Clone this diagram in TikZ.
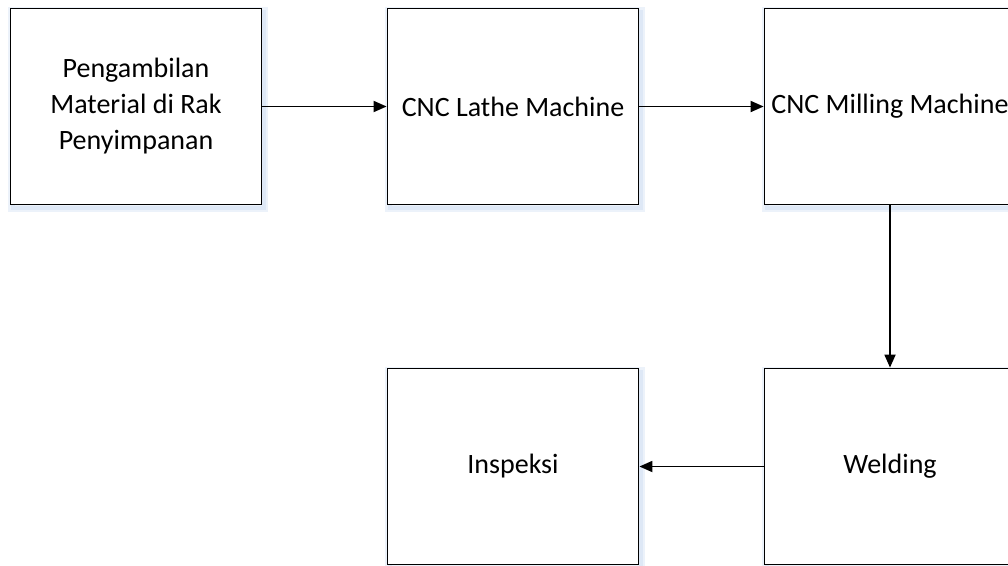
\documentclass[tikz,border=0pt]{standalone}
\usepackage{fontspec}
\setmainfont{Carlito}
\usetikzlibrary{arrows.meta}
\definecolor{glowA}{RGB}{236,242,250}
\definecolor{glowB}{RGB}{222,232,246}
\tikzset{
  procbox/.style={draw=black, line width=1.8pt, fill=white, rectangle,
    minimum width=251pt, minimum height=196pt, inner sep=0pt,
    align=center, font=\fontsize{28}{36}\selectfont,
    preaction={draw=glowA, line width=9pt, transform canvas={xshift=2pt,yshift=-3pt}},
    preaction={draw=glowB, line width=4pt, transform canvas={xshift=2pt,yshift=-3pt}}},
  flow/.style={line width=1.8pt, -{Triangle[length=13pt,width=11pt]}}
}
\begin{document}
\begin{tikzpicture}[x=1pt,y=-1pt]
  \useasboundingbox (0,0) rectangle (1008,565);
  \clip (0,0) rectangle (1008,565);
  \node[procbox] (ambil) at (136,106.5) {Pengambilan\\Material di Rak\\Penyimpanan};
  \node[procbox] (lathe) at (513,106.5) {CNC Lathe Machine};
  \node[procbox] (mill) at (890,106.5) {CNC Milling Machine};
  \node[procbox] (weld) at (890,466.5) {Welding};
  \node[procbox] (insp) at (513,466.5) {Inspeksi};
  \draw[flow] (ambil) -- (lathe);
  \draw[flow] (lathe) -- (mill);
  \draw[flow] (mill) -- (weld);
  \draw[flow] (weld) -- (insp);
\end{tikzpicture}
\end{document}
